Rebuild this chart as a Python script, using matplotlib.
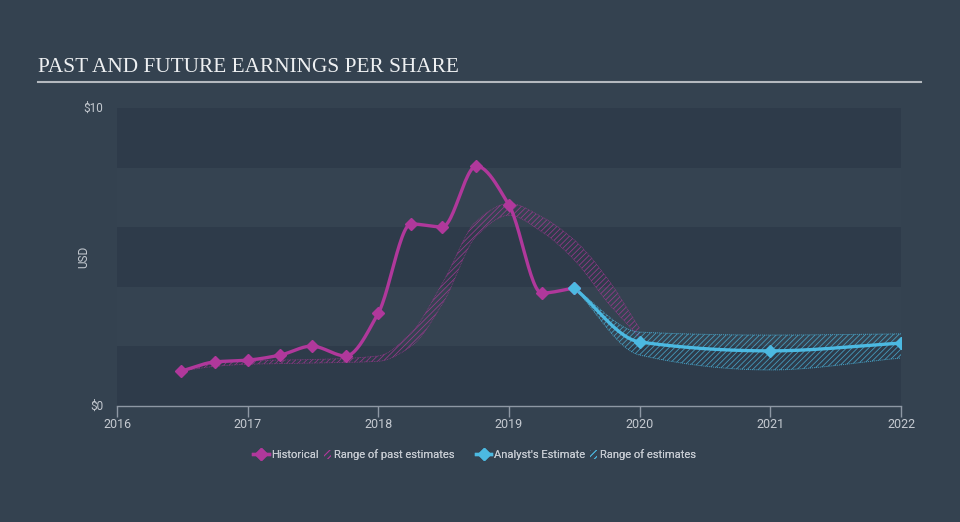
import numpy as np
import matplotlib
matplotlib.use("Agg")
import matplotlib.pyplot as plt
from matplotlib.lines import Line2D
from matplotlib.patches import Patch, Rectangle
from matplotlib.legend_handler import HandlerPatch

# historical EPS (quarterly, decimal years)
hist_x = [2016.49, 2016.75, 2017.0, 2017.25, 2017.49, 2017.75, 2018.0,
          2018.25, 2018.49, 2018.75, 2019.0, 2019.25, 2019.5]
hist_y = [1.17, 1.48, 1.54, 1.71, 2.01, 1.68, 3.12,
          6.11, 6.01, 8.05, 6.74, 3.79, 3.96]

# range of past estimates
past_x = [2016.49, 2016.75, 2017.0, 2017.5, 2018.0, 2018.25, 2018.5,
          2018.75, 2019.0, 2019.25, 2019.5, 2019.75, 2020.0]
past_lo = [1.17, 1.33, 1.40, 1.44, 1.50, 2.00, 3.50, 5.70, 6.40, 5.85, 4.90, 3.50, 2.30]
past_hi = [1.19, 1.42, 1.52, 1.56, 1.68, 2.45, 4.20, 6.20, 6.80, 6.35, 5.57, 4.30, 2.60]

# analyst estimates
est_x = [2019.5, 2020.0, 2021.0, 2022.0]
est_y = [3.96, 2.15, 1.85, 2.11]
est_lo = [3.96, 1.71, 1.21, 1.61]
est_hi = [3.96, 2.48, 2.38, 2.42]

years = [2016, 2017, 2018, 2019, 2020, 2021, 2022]

BG = "#344250"
DARK = "#2e3b4a"
LIGHT = "#354351"
MAG = "#b0389b"
BLUE = "#4cb9e1"
TXT = "#c5cad1"


def monotone(x, y, n=300):
    # monotone cubic (Fritsch-Carlson) for a smooth line through the points
    x = np.asarray(x, float)
    y = np.asarray(y, float)
    h = np.diff(x)
    d = np.diff(y) / h
    m = np.zeros_like(y)
    m[0], m[-1] = d[0], d[-1]
    for k in range(1, len(x) - 1):
        if d[k - 1] * d[k] <= 0:
            m[k] = 0
        else:
            w1 = 2 * h[k] + h[k - 1]
            w2 = h[k] + 2 * h[k - 1]
            m[k] = (w1 + w2) / (w1 / d[k - 1] + w2 / d[k])
    xs = np.linspace(x[0], x[-1], n)
    idx = np.clip(np.searchsorted(x, xs) - 1, 0, len(x) - 2)
    t = (xs - x[idx]) / h[idx]
    h00 = 2 * t**3 - 3 * t**2 + 1
    h10 = t**3 - 2 * t**2 + t
    h01 = -2 * t**3 + 3 * t**2
    h11 = t**3 - t**2
    ys = h00 * y[idx] + h10 * h[idx] * m[idx] + h01 * y[idx + 1] + h11 * h[idx] * m[idx + 1]
    return xs, ys


plt.rcParams['font.family'] = ['Roboto', 'DejaVu Sans']
plt.rcParams['hatch.linewidth'] = 0.6

fig = plt.figure(figsize=(9.6, 5.22), dpi=100, facecolor=BG)
ax = fig.add_axes([117 / 960, 1 - 406 / 522, 784 / 960, 298 / 522])
ax.set_facecolor(DARK)
ax.set_xlim(2016, 2022)
ax.set_ylim(0, 10)

# alternating horizontal bands
for b in range(0, 10, 2):
    ax.axhspan(b, b + 2, color=DARK if (b // 2) % 2 == 0 else LIGHT, lw=0, zorder=0)

# past estimate band
px, plo = monotone(past_x, past_lo)
_, phi = monotone(past_x, past_hi)
ax.fill_between(px, plo, phi, facecolor="none", edgecolor=MAG, hatch="//////", lw=0, alpha=0.75, zorder=2)
ax.plot(px, plo, color=MAG, lw=0.6, ls=(0, (1, 1)), alpha=0.7, zorder=2)
ax.plot(px, phi, color=MAG, lw=0.6, ls=(0, (1, 1)), alpha=0.7, zorder=2)

# estimate band
ex, elo = monotone(est_x, est_lo)
_, ehi = monotone(est_x, est_hi)
ax.fill_between(ex, elo, ehi, facecolor="none", edgecolor=BLUE, hatch="//////", lw=0, alpha=0.75, zorder=2)
ax.plot(ex, elo, color=BLUE, lw=0.7, ls=(0, (1, 1)), alpha=0.8, zorder=2)
ax.plot(ex, ehi, color=BLUE, lw=0.7, ls=(0, (1, 1)), alpha=0.8, zorder=2)

# lines
hx, hy = monotone(hist_x, hist_y)
ax.plot(hx, hy, color=MAG, lw=2.4, zorder=4, solid_capstyle="round")
ax.plot(hist_x, hist_y, "D", color=MAG, ms=6, zorder=5)
sx, sy = monotone(est_x, est_y)
ax.plot(sx, sy, color=BLUE, lw=2.4, zorder=4, solid_capstyle="round")
ax.plot(est_x, est_y, "D", color=BLUE, ms=6, zorder=5)

# axes styling
for s in ["top", "right", "left"]:
    ax.spines[s].set_visible(False)
ax.spines["bottom"].set_color("#8e98a4")
ax.spines["bottom"].set_linewidth(1)
ax.set_xticks(years)
ax.set_xticklabels([str(y) for y in years])
ax.tick_params(axis="x", colors="#8e98a4", length=8, width=1, labelcolor=TXT, labelsize=9, pad=1)
ax.set_yticks([0, 10])
ax.set_yticklabels(["$0", "$10"])
ax.tick_params(axis="y", length=0, labelcolor=TXT, labelsize=8.5, pad=10)
for lab in ax.get_yticklabels():
    lab.set_verticalalignment("center")
ax.set_ylabel("USD", color=TXT, fontsize=8.5)
ax.yaxis.set_label_coords(-0.0344, 0.5)

# title and rule
fig.text(38 / 960, 1 - 68 / 522, "PAST AND FUTURE EARNINGS PER SHARE", family="Liberation Serif",
         fontsize=15.3, color="#eef0f2", va="center", ha="left")
fig.add_artist(Line2D([38 / 960, 921 / 960], [1 - 82 / 522, 1 - 82 / 522], color="#b4b9bf", lw=1.5))


# legend: narrow hatch swatches, two groups
def narrow(legend, orig_handle, xdescent, ydescent, width, height, fontsize):
    return Rectangle((-xdescent + width * 0.5, -ydescent), width * 0.5, height)


groups = [
    ([Line2D([0], [0], color=MAG, lw=2.4, marker="D", ms=6),
      Patch(facecolor="none", edgecolor=MAG, hatch="/////", lw=0)],
     ["Historical", "Range of past estimates"], 354),
    ([Line2D([0], [0], color=BLUE, lw=2.4, marker="D", ms=6),
      Patch(facecolor="none", edgecolor=BLUE, hatch="/////", lw=0)],
     ["Analyst's Estimate", "Range of estimates"], 586),
]
for handles, labels, cx in groups:
    leg = fig.legend(handles, labels, loc="center", bbox_to_anchor=(cx / 960, 1 - 455 / 522), ncol=2,
                     frameon=False, fontsize=8, labelcolor=TXT, handlelength=1.4, handletextpad=0.25,
                     columnspacing=-0.3, handleheight=0.8, borderpad=0, borderaxespad=0,
                     handler_map={Patch: HandlerPatch(patch_func=narrow)})
    fig.add_artist(leg)

fig.savefig("out.png", dpi=100, facecolor=BG)
